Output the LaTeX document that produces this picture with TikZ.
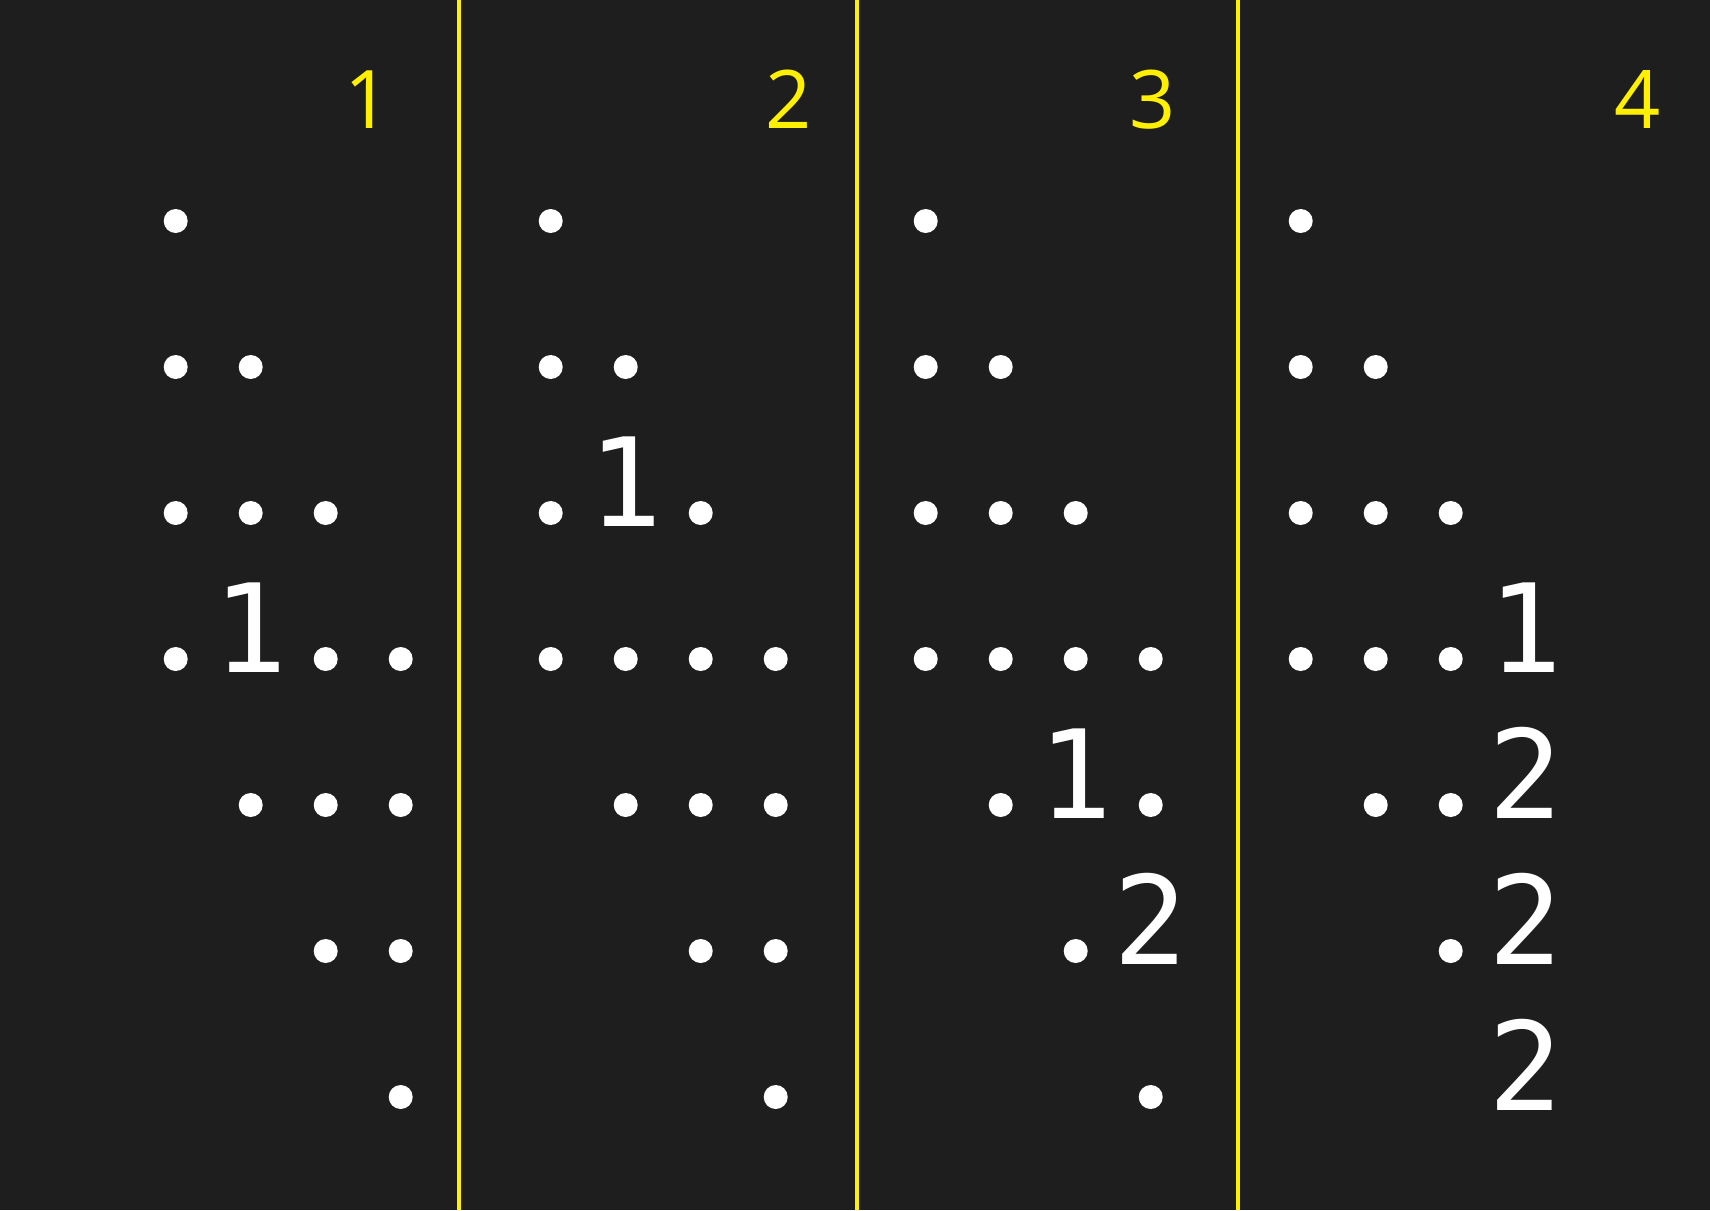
\documentclass[tikz,border=0pt]{standalone}
\usepackage{fontspec}
\newfontfamily\gridfont{DejaVu Sans Mono}
\newfontfamily\headfont{Open Sans}
\usetikzlibrary{positioning}

\definecolor{panelbg}{HTML}{1E1E1E}
\definecolor{marker}{HTML}{FFF000}

\begin{document}
\begin{tikzpicture}[x=0.02cm, y=-0.02cm,
	dot/.style = { circle, fill=white, inner sep=0pt, minimum size=0.48cm },
	digit/.style = { text=white, inner sep=0pt, anchor=base,
	font=\gridfont\fontsize{70}{70}\selectfont },
	panelnum/.style = { text=marker, inner sep=0pt, anchor=base,
	font=\headfont\fontsize{46}{46}\selectfont },
	divider/.style = { draw=marker, line width=0.08cm } ]

  \useasboundingbox (0,0) rectangle (1710,1210);
  \fill [panelbg] (0,0) rectangle (1710,1210);

  % panel borders
  \draw [divider] (459,0) -- (459,1210);
  \draw [divider] (857,0) -- (857,1210);
  \draw [divider] (1238,0) -- (1238,1210);

  % panel numbers
  \node [name=num1, panelnum] at (368,128) {1};
  \node [name=num2, panelnum] at (789,128) {2};
  \node [name=num3, panelnum] at (1153,128) {3};
  \node [name=num4, panelnum] at (1638,128) {4};

  % panel 1
  \foreach \r/\c in {0/0, 1/0, 1/1, 2/0, 2/1, 2/2, 3/0, 3/2, 3/3,
	4/1, 4/2, 4/3, 5/2, 5/3, 6/3}
	\node [name=dot-1-\r-\c, dot] at (175.7+75*\c, 221+146*\r) {};
  \node [name=cell-1-3-1, digit] at (250.7, 672) {1};

  % panel 2
  \foreach \r/\c in {0/0, 1/0, 1/1, 2/0, 2/2, 3/0, 3/1, 3/2, 3/3,
	4/1, 4/2, 4/3, 5/2, 5/3, 6/3}
	\node [name=dot-2-\r-\c, dot] at (550.7+75*\c, 221+146*\r) {};
  \node [name=cell-2-2-1, digit] at (625.7, 526) {1};

  % panel 3
  \foreach \r/\c in {0/0, 1/0, 1/1, 2/0, 2/1, 2/2, 3/0, 3/1, 3/2, 3/3,
	4/1, 4/3, 5/2, 6/3}
	\node [name=dot-3-\r-\c, dot] at (925.7+75*\c, 221+146*\r) {};
  \node [name=cell-3-4-2, digit] at (1075.7, 818) {1};
  \node [name=cell-3-5-3, digit] at (1150.7, 964) {2};

  % panel 4
  \foreach \r/\c in {0/0, 1/0, 1/1, 2/0, 2/1, 2/2, 3/0, 3/1, 3/2,
	4/1, 4/2, 5/2}
	\node [name=dot-4-\r-\c, dot] at (1300.7+75*\c, 221+146*\r) {};
  \node [name=cell-4-3-3, digit] at (1525.7, 672) {1};
  \node [name=cell-4-4-3, digit] at (1525.7, 818) {2};
  \node [name=cell-4-5-3, digit] at (1525.7, 964) {2};
  \node [name=cell-4-6-3, digit] at (1525.7, 1110) {2};
\end{tikzpicture}
\end{document}
